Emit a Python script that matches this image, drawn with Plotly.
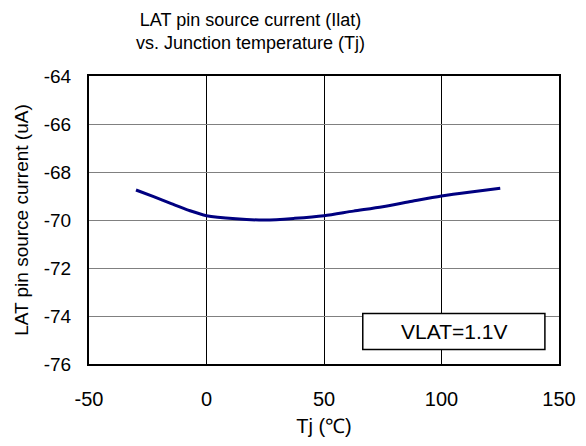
import plotly.graph_objects as go

# Tj (degC) vs LAT pin source current (uA)
tj = [-30, -22.5, -15, -7.5, 0, 12.5, 25, 37.5, 50, 62.5, 75, 87.5, 100, 112.5, 125]
ilat = [-68.75, -69.03, -69.32, -69.6, -69.82, -69.95, -70.0, -69.93, -69.82,
        -69.63, -69.45, -69.22, -69.0, -68.83, -68.68]

x_ticks = [-50, 0, 50, 100, 150]
y_ticks = [-64, -66, -68, -70, -72, -74, -76]
title_text = "LAT pin source current (Ilat)<br>vs. Junction temperature (Tj)"
y_title = "LAT pin source current (uA)"
note = "VLAT=1.1V"

font = "Liberation Sans, Arial, sans-serif"

fig = go.Figure()
fig.add_trace(go.Scatter(x=tj, y=ilat, mode="lines",
                         line=dict(color="#000080", width=3, shape="spline", smoothing=0.8),
                         showlegend=False))

# legend-like box with the condition
fig.add_shape(type="rect", x0=66.5, x1=144, y0=-75.4, y1=-73.9, xref="x", yref="y",
              line=dict(color="black", width=1.5), fillcolor="white", layer="above")
fig.add_annotation(x=105.3, y=-74.65, xref="x", yref="y", text=note, showarrow=False,
                   font=dict(size=21, color="black", family=font))

# two-line title
fig.add_annotation(x=0.3426, y=1.156, xref="paper", yref="paper", text=title_text, showarrow=False,
                   xanchor="center", yanchor="middle", font=dict(size=18, color="black", family=font))

# y axis title, placed by hand so it sits close to the tick labels
fig.add_annotation(x=-0.145, y=0.5, xref="paper", yref="paper", text=y_title, showarrow=False,
                   textangle=-90, xanchor="center", yanchor="middle",
                   font=dict(size=19, color="black", family=font))

fig.update_layout(
    width=570, height=430, autosize=False,
    margin=dict(l=81, r=19, t=68, b=74),
    paper_bgcolor="white", plot_bgcolor="white",
    font=dict(family=font, size=20, color="black"),
    xaxis=dict(range=[-50, 150], tickvals=x_ticks, ticktext=[str(v) for v in x_ticks],
               showgrid=True, gridcolor="black", gridwidth=1, automargin=False,
               showline=True, linecolor="black", linewidth=2, mirror=True, zeroline=False,
               ticks="", ticklabelstandoff=16, tickfont=dict(size=20),
               title=dict(text="Tj (℃)", standoff=10, font=dict(size=20))),
    yaxis=dict(range=[-76, -64], tickvals=y_ticks, ticktext=[str(v) for v in y_ticks],
               showgrid=True, gridcolor="#808080", gridwidth=1, automargin=False,
               showline=True, linecolor="black", linewidth=2, mirror=True, zeroline=False,
               ticks="", ticklabelstandoff=12, tickfont=dict(size=19)),
)

fig.write_html("out.html")
